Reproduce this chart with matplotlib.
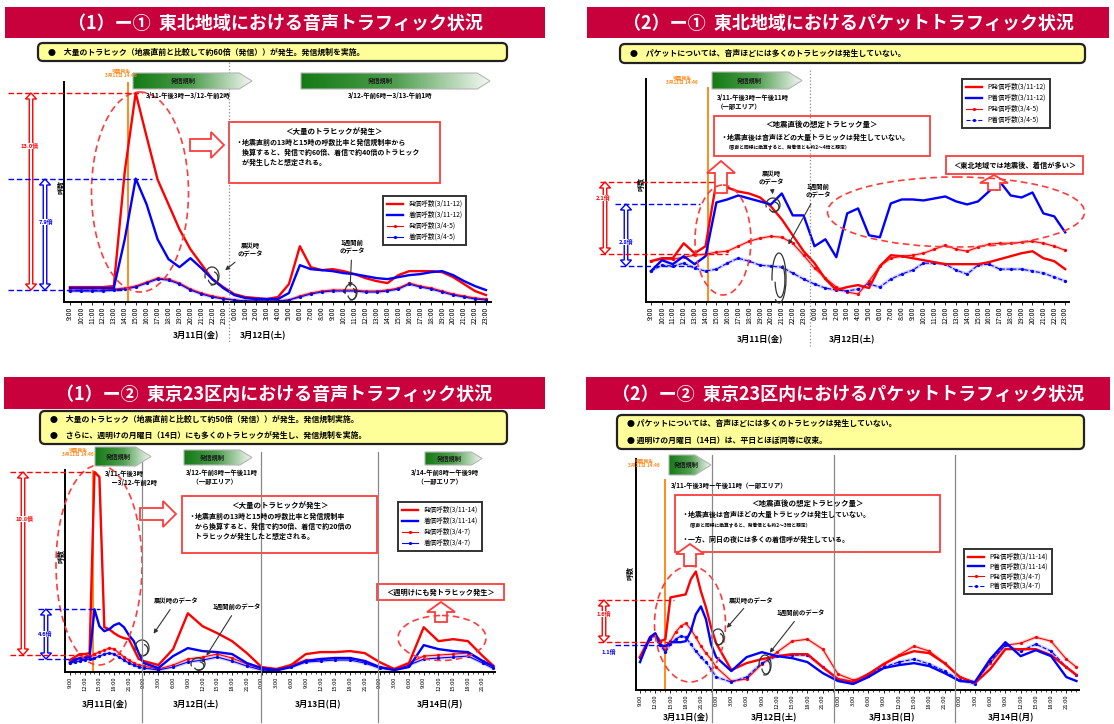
import matplotlib
matplotlib.use('Agg')
import matplotlib.pyplot as plt
import matplotlib.patches as mpatches
from matplotlib.colors import LinearSegmentedColormap
import numpy as np

plt.rcParams['font.family'] = ['Noto Sans CJK JP', 'DejaVu Sans']

# ---- top panels: 3/11 9:00 - 3/12 23:00, hourly ----
hours_2day = list(range(39))
labels_2day = [f'{(9 + h) % 24}:00' for h in hours_2day]

voice_tohoku_out = [14, 14, 14, 14, 15, 130, 209, 165, 122, 97, 72, 52, 37, 22, 14, 7, 4, 3, 2, 4,
                    17, 55, 34, 31, 32, 30, 27, 23, 20, 18, 26, 30, 30, 30, 29, 24, 17, 10, 6]
voice_tohoku_in = [13, 13, 13, 13, 13, 62, 123, 97, 62, 42, 34, 43, 33, 22, 13, 6, 3, 2, 2, 2,
                   8, 36, 32, 31, 30, 28, 27, 25, 23, 22, 24, 26, 27, 29, 30, 26, 20, 15, 11]
voice_tohoku_out_prev = [11, 11, 11, 11, 12, 13, 15, 19, 23, 22, 18, 12, 8, 5, 3, 1, 0, 0, 0, 0,
                         1, 5, 8, 10, 11, 11, 11, 10, 10, 11, 13, 18, 15, 13, 10, 7, 5, 3, 2]
voice_tohoku_in_prev = [10, 10, 10, 10, 11, 12, 14, 18, 22, 21, 17, 11, 7, 4, 2, 1, 0, 0, 0, 0,
                        1, 4, 7, 9, 10, 10, 10, 9, 9, 10, 12, 17, 14, 12, 9, 6, 4, 2, 1]

packet_tohoku_out = [40, 43, 43, 58, 48, 55, 120, 114, 110, 108, 104, 95, 82, 66, 50, 38, 22, 11, 14, 16,
                     13, 35, 46, 45, 43, 41, 39, 37, 37, 37, 37, 39, 42, 45, 48, 50, 43, 40, 32]
packet_tohoku_in = [30, 41, 37, 45, 37, 45, 99, 102, 106, 103, 100, 97, 108, 86, 86, 55, 62, 44, 88, 93,
                    66, 64, 98, 102, 102, 101, 103, 105, 100, 97, 100, 110, 120, 106, 104, 109, 88, 85, 69]
packet_tohoku_out_prev = [40, 42, 42, 44, 46, 47, 49, 50, 55, 60, 63, 65, 64, 58, 46, 33, 23, 14, 9, 7,
                          20, 35, 43, 45, 46, 48, 52, 56, 52, 50, 54, 57, 58, 58, 59, 60, 58, 55, 51]
packet_tohoku_in_prev = [30, 36, 35, 38, 33, 30, 32, 38, 43, 40, 36, 35, 34, 28, 22, 17, 13, 11, 10, 12,
                         17, 14, 22, 27, 31, 38, 38, 37, 31, 27, 36, 37, 32, 32, 32, 30, 28, 24, 20]

# ---- bottom panels: 3/11 9:00 - 3/14 23:00 (hours since 3/11 9:00) ----
hours_4day = list(range(15)) + list(range(15, 85, 3)) + [86]
ticks_4day = list(range(0, 85, 3))
labels_4day = [f'{(9 + h) % 24}:00' for h in ticks_4day]

voice_tokyo_out = [11, 14, 17, 17, 18, 200, 195, 44, 42, 38, 35, 33, 32, 22, 12,
                   10, 6, 22, 58, 45, 38, 30, 18, 4, 2, 6, 17, 19, 19, 20, 18, 9, 2, 8, 44, 30, 32, 30, 15, 6]
voice_tokyo_in = [8, 11, 13, 13, 14, 62, 45, 40, 42, 46, 48, 44, 36, 30, 18,
                  8, 3, 15, 23, 20, 19, 17, 8, 3, 1, 4, 10, 12, 13, 13, 10, 4, 1, 4, 26, 22, 20, 19, 10, 5]
voice_tokyo_out_prev = [11, 12, 13, 14, 15, 17, 19, 21, 23, 22, 18, 14, 11, 8, 6,
                        5, 2, 6, 12, 14, 17, 13, 7, 2, 1, 6, 11, 12, 13, 13, 10, 4, 2, 8, 15, 16, 17, 18, 10, 5]
voice_tokyo_in_prev = [8, 9, 10, 11, 12, 13, 15, 17, 18, 17, 14, 11, 8, 6, 4,
                       3, 1, 4, 9, 11, 14, 10, 5, 1, 0, 4, 9, 10, 11, 11, 8, 3, 1, 6, 12, 13, 14, 15, 8, 3]

packet_tokyo_out = [32, 42, 52, 55, 48, 50, 92, 93, 94, 95, 110, 118, 98, 82, 62,
                    46, 19, 26, 30, 33, 35, 35, 22, 10, 7, 15, 25, 33, 38, 36, 26, 12, 6, 20, 40, 40, 40, 34, 22, 14]
packet_tokyo_in = [27, 40, 52, 56, 44, 43, 47, 47, 47, 48, 58, 75, 83, 70, 45,
                   32, 18, 32, 37, 33, 31, 27, 16, 8, 5, 12, 21, 24, 26, 23, 16, 8, 7, 30, 47, 33, 39, 33, 12, 8]
packet_tokyo_out_prev = [32, 42, 52, 55, 45, 39, 48, 57, 63, 66, 60, 52, 43, 36, 30,
                         22, 8, 10, 25, 37, 48, 50, 40, 15, 9, 13, 25, 34, 43, 38, 26, 12, 7, 26, 44, 46, 52, 48, 30, 22]
packet_tokyo_in_prev = [32, 42, 50, 54, 44, 37, 45, 50, 53, 52, 45, 38, 32, 27, 20,
                        12, 7, 12, 26, 33, 34, 34, 22, 10, 7, 15, 22, 27, 30, 25, 18, 9, 5, 28, 44, 38, 45, 38, 22, 14]

names_voice_tohoku = ['発信呼数(3/11-12)', '着信呼数(3/11-12)', '発信呼数(3/4-5)', '着信呼数(3/4-5)']
names_packet_tohoku = ['P発信呼数(3/11-12)', 'P着信呼数(3/11-12)', 'P発信呼数(3/4-5)', 'P着信呼数(3/4-5)']
names_voice_tokyo = ['発信呼数(3/11-14)', '着信呼数(3/11-14)', '発信呼数(3/4-7)', '着信呼数(3/4-7)']
names_packet_tokyo = ['P発信呼数(3/11-14)', 'P着信呼数(3/11-14)', 'P発信呼数(3/4-7)', 'P着信呼数(3/4-7)']

W, H = 1114, 724
RED, BLUE, ORANGE = '#ff0000', '#0000ff', '#ff8a1c'
BOXRED = '#ff3b3b'
GREEN = LinearSegmentedColormap.from_list('green', ['#157a15', '#4f9e4f', '#f4f8f4'])

fig = plt.figure(figsize=(W / 100, H / 100), dpi=100)
fig.patch.set_facecolor('white')


def chart(box, xlim, ylim, x, series, names, legend_xy, quake, quake_top=1.0, hourly=True,
          packet=False, leg_space=0.45):
    x0, y0, x1, y1 = box
    ax = fig.add_axes([x0 / W, 1 - y1 / H, (x1 - x0) / W, (y1 - y0) / H])
    ax.patch.set_alpha(0)
    out_now, in_now, out_prev, in_prev = series
    ax.plot(x, out_prev, color='#ff9a9a', lw=2.6, alpha=0.45)
    ax.plot(x, in_prev, color='#9a9aff', lw=2.6, alpha=0.45)
    h3, = ax.plot(x, out_prev, color=RED, lw=0.8, marker='o', ms=1.3, label=names[2])
    h4, = ax.plot(x, in_prev, color=BLUE, lw=0.8, marker='o', ms=1.3, label=names[3],
                  ls='--' if packet else '-')
    h1, = ax.plot(x, out_now, color=RED, lw=1.7, label=names[0])
    h2, = ax.plot(x, in_now, color=BLUE, lw=1.7, label=names[1])
    ax.axvline(quake, ymax=quake_top, color=ORANGE, lw=1.4, zorder=1)
    ax.set_xlim(*xlim)
    ax.set_ylim(*ylim)
    ax.spines[['top', 'right']].set_visible(False)
    ax.spines[['left', 'bottom']].set_linewidth(1.4)
    ax.set_yticks([])
    if hourly:
        ax.set_xticks(hours_2day)
        ax.set_xticklabels(labels_2day, rotation=90)
        ax.tick_params(axis='x', which='major', length=2, width=0.6, pad=1.5, labelsize=5)
    else:
        ax.set_xticks(ticks_4day)
        ax.set_xticklabels(labels_4day, rotation=90)
        ax.set_xticks(range(0, 87), minor=True)
        ax.tick_params(axis='x', which='minor', length=1.5, width=0.5)
        ax.tick_params(axis='x', which='major', length=2, width=0.6, pad=1, labelsize=4.2)
    leg = ax.legend(handles=[h1, h2, h3, h4], loc='upper left',
                    bbox_to_anchor=(legend_xy[0] / W, 1 - legend_xy[1] / H),
                    bbox_transform=fig.transFigure, borderaxespad=0, fontsize=4.8,
                    fancybox=False, edgecolor='#333333', framealpha=1,
                    handlelength=2.4, labelspacing=leg_space, borderpad=0.6)
    leg.get_frame().set_linewidth(1.4)
    return ax


# Voice / Tohoku
chart((64, 82, 491, 302), (-0.55, 38.46), (-1, 220), hours_2day,
      [voice_tohoku_out, voice_tohoku_in, voice_tohoku_out_prev, voice_tohoku_in_prev],
      names_voice_tohoku, (383, 196), 5.3)
# Packet / Tohoku
chart((646, 79, 1069, 302), (-0.46, 38.35), (-1, 223), hours_2day,
      [packet_tohoku_out, packet_tohoku_in, packet_tohoku_out_prev, packet_tohoku_in_prev],
      names_packet_tohoku, (962, 79), 5.2, quake_top=0.96, packet=True)
# Voice / Tokyo
chart((65, 470, 495, 672), (-1.0, 86.5), (-1, 202), hours_4day,
      [voice_tokyo_out, voice_tokyo_in, voice_tokyo_out_prev, voice_tokyo_in_prev],
      names_voice_tokyo, (398, 502), 4.6, hourly=False)
# Packet / Tokyo
chart((636, 459, 1079, 690), (-0.79, 86.5), (-1, 231), hours_4day,
      [packet_tokyo_out, packet_tokyo_in, packet_tokyo_out_prev, packet_tokyo_in_prev],
      names_packet_tokyo, (964, 549), 4.9, quake_top=0.91, hourly=False, packet=True,
      leg_space=0.25)

# ---- overlay in pixel coordinates for banners, boxes and call-outs ----
ov = fig.add_axes([0, 0, 1, 1], zorder=10)
ov.patch.set_alpha(0)


def banner(x0, y0, x1, y1, text):
    ov.add_patch(mpatches.Rectangle((x0, y0), x1 - x0, y1 - y0, fc='#c8003c', ec='none'))
    ov.text((x0 + x1) / 2, (y0 + y1) / 2 + 1, text, color='white', fontsize=13,
            fontweight='bold', ha='center', va='center')


def note(x0, y0, x1, y1, lines):
    ov.add_patch(mpatches.FancyBboxPatch((x0, y0), x1 - x0, y1 - y0,
                                         boxstyle='round,pad=0,rounding_size=5',
                                         fc='#ffff99', ec='#222222', lw=1.6))
    step = (y1 - y0) / len(lines)
    for i, line in enumerate(lines):
        ov.text(x0 + 10, y0 + step * (i + 0.5), line, fontsize=5.7, fontweight='bold', va='center')


def redbox(x0, y0, x1, y1):
    ov.add_patch(mpatches.Rectangle((x0, y0), x1 - x0, y1 - y0, fc='white', ec=BOXRED, lw=1.3))


def green_arrow(x0, y0, x1, y1, label='発信規制'):
    tip = (y1 - y0) * 0.8
    ym = (y0 + y1) / 2
    poly = mpatches.Polygon([(x0, y0), (x1 - tip, y0), (x1, ym), (x1 - tip, y1), (x0, y1)],
                            closed=True, fc='none', ec='#b5b5b5', lw=0.8, zorder=3)
    ov.add_patch(poly)
    im = ov.imshow(np.linspace(0, 1, 200).reshape(1, -1), cmap=GREEN,
                   extent=(x0, x1, y1, y0), aspect='auto', zorder=2)
    im.set_clip_path(poly)
    ov.text(x0 + (x1 - x0) * 0.42, ym, label, fontsize=4.5, fontweight='bold',
            color='#1a1a1a', ha='center', va='center', zorder=4)


def double_arrow(x, ya, yb, color, w=3.5, hw=5.5, hl=6):
    pts = [(x, ya), (x + hw, ya + hl), (x + w / 2, ya + hl), (x + w / 2, yb - hl), (x + hw, yb - hl),
           (x, yb), (x - hw, yb - hl), (x - w / 2, yb - hl), (x - w / 2, ya + hl), (x - hw, ya + hl)]
    ov.add_patch(mpatches.Polygon(pts, closed=True, fc='white', ec=color, lw=1))


def block_arrow(x, y, dx, dy, w=12, hw=26, hl=13):
    ov.add_patch(mpatches.FancyArrow(x, y, dx, dy, width=w, head_width=hw, head_length=hl,
                                     length_includes_head=True, fc='white', ec=BOXRED, lw=1.3))


def hdash(xa, xb, y, color):
    ov.plot([xa, xb], [y, y], color=color, ls=(0, (4, 2)), lw=1)


def ellipse(cx, cy, w, h):
    ov.add_patch(mpatches.Ellipse((cx, cy), w, h, fill=False, ec=BOXRED, ls=(0, (4, 2.5)), lw=1.2))


def swirl(x, y, w, h):
    ov.add_patch(mpatches.Arc((x, y), w, h, theta1=-200, theta2=100, color='#333333', lw=0.9))
    ov.add_patch(mpatches.Arc((x + 1, y + 2), w * 0.7, h * 0.7, theta1=-80, theta2=160,
                              color='#333333', lw=0.9))


def callout(text, xy, xytext):
    ov.annotate(text, xy=xy, xytext=xytext, fontsize=4.6, fontweight='bold', ha='center',
                va='center', style='italic',
                arrowprops=dict(arrowstyle='-|>', color='#333333', lw=0.8, mutation_scale=6))


def small(x, y, text, color, size=4.2, ha='center'):
    ov.text(x, y, text, fontsize=size, color=color, fontweight='bold', ha=ha, va='center',
            bbox=dict(fc='white', ec='none', pad=0.3))


def quake_note(x, y):
    ov.text(x, y, '地震発生\n3月11日 14:46', fontsize=3.4, color=ORANGE, fontweight='bold',
            ha='center', va='center', linespacing=1.1)


def vline(x, ya, yb, ls='-'):
    ov.plot([x, x], [ya, yb], color='#888888', lw=0.9, ls=ls)


def ylabel(x, y):
    ov.text(x, y, '呼数', rotation=90, fontsize=5, fontweight='bold', ha='center', va='center')


def date(x, y, text):
    ov.text(x, y, text, fontsize=6, fontweight='bold', ha='center', va='center')


# (1)-1 voice / Tohoku
banner(5, 7, 545, 38, '（1）ー①  東北地域における音声トラフィック状況')
note(38, 43, 507, 61, ['●　大量のトラヒック（地震直前と比較して約60倍（発信））が発生。発信規制を実施。'])
vline(229, 62, 342, ls=':')
quake_note(121, 73)
green_arrow(133, 73, 252, 89)
ov.text(146, 95, '3/11-午後3時ー3/12-午前2時', fontsize=4.6, fontweight='bold', va='center')
green_arrow(301, 73, 490, 89)
ov.text(390, 95, '3/12-午前6時ー3/13-午前1時', fontsize=4.6, fontweight='bold', ha='center', va='center')
hdash(8, 142, 93, RED)
hdash(8, 152, 179, BLUE)
hdash(8, 125, 290, BLUE)
double_arrow(31, 93, 290, RED)
double_arrow(45, 179, 290, BLUE)
small(30, 146, '13.0倍', RED)
small(46, 222, '7.9倍', BLUE)
ellipse(140, 192, 97, 200)
block_arrow(190, 145, 34, 0)
redbox(229, 122, 440, 183)
ov.text(334, 131, '＜大量のトラヒックが発生＞', fontsize=5.4, fontweight='bold', ha='center', va='center')
ov.text(235, 139, '・地震直前の13時と15時の呼数比率と発信規制率から\n　換算すると、発信で約60倍、着信で約40倍のトラヒック\n　が発生したと想定される。',
        fontsize=5, fontweight='bold', va='top', linespacing=1.35)
callout('震災時\nのデータ', (223, 272), (250, 250))
swirl(212, 276, 14, 18)
callout('1週間前\nのデータ', (350, 290), (352, 247))
swirl(351, 292, 12, 16)
ylabel(61, 187)
date(196, 336, '3月11日(金)')
date(263, 336, '3月12日(土)')

# (2)-1 packet / Tohoku
banner(587, 7, 1109, 38, '（2）ー①  東北地域におけるパケットトラフィック状況')
note(620, 44, 1085, 63, ['●　パケットについては、音声ほどには多くのトラヒックは発生していない。'])
vline(810, 70, 346, ls=':')
quake_note(682, 80)
green_arrow(712, 72, 802, 89)
ov.text(717, 102, '3/11-午後3時ー午後11時\n（一部エリア）', fontsize=4.6, fontweight='bold', va='center',
        linespacing=1.2)
redbox(714, 116, 930, 156)
ov.text(822, 124, '＜地震直後の想定トラヒック量＞', fontsize=5.4, fontweight='bold', ha='center', va='center')
ov.text(720, 137, '・地震直後は音声ほどの大量トラヒックは発生していない。', fontsize=5, fontweight='bold', va='center')
ov.text(726, 148, '（音声と同様に換算すると、発着信とも約2～4倍と想定）', fontsize=3.4, fontweight='bold', va='center')
block_arrow(721, 193, 0, -32, w=12, hw=28, hl=12)
ov.add_patch(mpatches.Rectangle((946, 156), 137, 18, fc='white', ec=BOXRED, lw=1.3))
ov.text(1014.5, 165, '＜東北地域では地震後、着信が多い＞', fontsize=5.2, fontweight='bold', ha='center', va='center')
block_arrow(994, 190, 0, -15, w=12, hw=28, hl=8)
ellipse(956, 212, 257, 70)
ellipse(723, 240, 56, 110)
hdash(600, 716, 182, RED)
hdash(615, 700, 204, BLUE)
hdash(600, 728, 254, RED)
hdash(620, 697, 266, BLUE)
double_arrow(605, 182, 254, RED)
double_arrow(626, 204, 266, BLUE)
small(603, 198, '2.1倍', RED)
small(626, 242, '2.8倍', BLUE)
callout('震災時\nのデータ', (773, 197), (771, 178))
swirl(773, 205, 14, 14)
callout('1週間前\nのデータ', (787, 247), (818, 191))
swirl(779, 278, 14, 50)
ylabel(641, 184)
date(760, 340, '3月11日(金)')
date(852, 340, '3月12日(土)')

# (1)-2 voice / Tokyo 23 wards
banner(4, 377, 545, 409, '（1）ー②  東京23区内における音声トラフィック状況')
note(40, 411, 507, 444, ['●　大量のトラヒック（地震直前と比較して約50倍（発信））が発生。発信規制実施。',
                         '●　さらに、週明けの月曜日（14日）にも多くのトラヒックが発生し、発信規制を実施。'])
for xs in (142, 261, 378):
    vline(xs, 452, 722)
quake_note(78, 452)
green_arrow(95, 447, 151, 466)
ov.text(105, 478, '3/11-午後3時\n　ー3/12-午前2時', fontsize=4.6, fontweight='bold', va='center', linespacing=1.2)
green_arrow(184, 450, 252, 465)
ov.text(186, 477, '3/12-午前8時ー午後11時\n　（一部エリア）', fontsize=4.6, fontweight='bold', va='center', linespacing=1.2)
green_arrow(425, 452, 482, 465)
ov.text(411, 477, '3/14-午前8時ー午後9時\n　（一部エリア）', fontsize=4.6, fontweight='bold', va='center', linespacing=1.2)
hdash(10, 96, 472, RED)
hdash(10, 96, 655, RED)
hdash(38, 100, 609, BLUE)
hdash(38, 96, 659, BLUE)
double_arrow(23, 472, 655, RED)
double_arrow(46, 609, 659, BLUE)
small(25, 519, '10.8倍', RED)
small(45, 634, '4.6倍', BLUE)
ellipse(99, 565, 86, 200)
block_arrow(140, 514, 36, 0)
redbox(182, 496, 377, 553)
ov.text(280, 505, '＜大量のトラヒックが発生＞', fontsize=5.4, fontweight='bold', ha='center', va='center')
ov.text(188, 513, '・地震直前の13時と15時の呼数比率と発信規制率\n　から換算すると、発信で約50倍、着信で約20倍の\n　トラヒックが発生したと想定される。',
        fontsize=5, fontweight='bold', va='top', linespacing=1.35)
callout('震災時のデータ', (152, 636), (176, 601))
swirl(142, 648, 14, 16)
callout('1週間前のデータ', (205, 658), (237, 607))
swirl(198, 664, 14, 12)
ov.add_patch(mpatches.Rectangle((377, 584), 127, 16, fc='white', ec=BOXRED, lw=1.3))
ov.text(440.5, 592, '＜週明けにも発トラヒック発生＞', fontsize=5.2, fontweight='bold', ha='center', va='center')
block_arrow(441, 622, 0, -20, w=12, hw=28, hl=10)
ellipse(442, 638, 88, 45)
ylabel(61, 556)
date(105, 705, '3月11日(金)')
date(196, 705, '3月12日(土)')
date(318, 705, '3月13日(日)')
date(440, 705, '3月14日(月)')

# (2)-2 packet / Tokyo 23 wards
banner(586, 377, 1110, 410, '（2）ー②  東京23区内におけるパケットトラフィック状況')
note(617, 415, 1084, 449, ['● パケットについては、音声ほどには多くのトラヒックは発生していない。',
                           '● 週明けの月曜日（14日）は、平日とほぼ同等に収束。'])
for xs in (712, 834, 955):
    vline(xs, 455, 722)
quake_note(644, 463)
green_arrow(669, 455, 711, 475)
ov.text(671, 485, '3/11-午後3時ー午後11時（一部エリア）', fontsize=4.6, fontweight='bold', va='center')
redbox(675, 495, 940, 552)
ov.text(808, 503, '＜地震直後の想定トラヒック量＞', fontsize=5.4, fontweight='bold', ha='center', va='center')
ov.text(681, 514, '・地震直後は音声ほどの大量トラヒックは発生していない。', fontsize=5, fontweight='bold', va='center')
ov.text(687, 526, '（音声と同様に換算すると、発着信とも約2～3倍と想定）', fontsize=3.4, fontweight='bold', va='center')
ov.text(681, 539, '・一方、同日の夜には多くの着信呼が発生している。', fontsize=5, fontweight='bold', va='center')
block_arrow(690, 566, 0, -22, w=12, hw=28, hl=10)
ellipse(690, 624, 71, 116)
hdash(598, 674, 600, RED)
hdash(598, 672, 642, RED)
hdash(615, 660, 645, BLUE)
double_arrow(604, 600, 642, RED)
small(604, 614, '1.6倍', RED)
small(609, 652, '1.1倍', BLUE)
callout('震災時のデータ', (725, 630), (751, 600))
swirl(718, 637, 12, 16)
callout('1週間前のデータ', (768, 655), (801, 613))
swirl(765, 665, 12, 20)
ylabel(630, 573)
date(686, 718, '3月11日(金)')
date(774, 718, '3月12日(土)')
date(892, 718, '3月13日(日)')
date(1011, 718, '3月14日(月)')

ov.set_xlim(0, W)
ov.set_ylim(H, 0)
ov.axis('off')

fig.savefig('out.png', dpi=100, facecolor='white')
